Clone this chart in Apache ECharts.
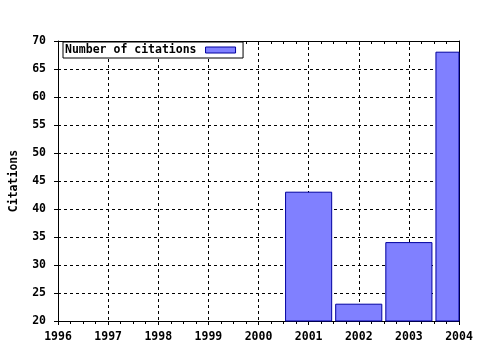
<!DOCTYPE html>
<html>
<head>
<meta charset="utf-8">
<script src="https://cdn.jsdelivr.net/npm/echarts@6/dist/echarts.min.js"></script>
<style>html,body{margin:0;padding:0;background:#fff}#c{width:480px;height:350px}</style>
</head>
<body>
<div id="c"></div>
<script>
var years = [2001, 2002, 2003, 2004];
var citations = [43, 23, 34, 68];
var seriesName = 'Number of citations';
var yName = 'Citations';

var font = 'DejaVu Sans Mono';
var txt = {fontFamily: font, fontWeight: 'bold', fontSize: 11.5, color: '#000'};
var dotted = {show: true, lineStyle: {color: '#000', type: [3, 3], width: 1}};
var barFill = '#8080ff', barEdge = '#0000a0';

var chart = echarts.init(document.getElementById('c'), null, {renderer: 'canvas'});
chart.setOption({
  animation: false,
  backgroundColor: '#fff',
  grid: {left: 58, right: 21, top: 41, bottom: 29, containLabel: false, outerBoundsMode: 'none'},
  legend: {
    left: 63, top: 42, padding: [2, 7, 2, 2],
    borderColor: '#000', borderWidth: 1, backgroundColor: '#fff',
    itemWidth: 30, itemHeight: 6, itemGap: 0, align: 'right',
    textStyle: Object.assign({}, txt, {padding: [0, 4, 0, 0]}),
    data: [{name: seriesName, icon: 'rect', itemStyle: {color: barFill, borderColor: barEdge, borderWidth: 1}}]
  },
  xAxis: [{
    type: 'value', min: 1996, max: 2004, interval: 1, position: 'bottom',
    axisLine: {show: true, lineStyle: {color: '#000', width: 1}},
    axisTick: {show: true, inside: false, length: 4, lineStyle: {color: '#000'}},
    minorTick: {show: true, splitNumber: 4, length: 3, lineStyle: {color: '#000'}},
    axisLabel: Object.assign({}, txt, {margin: 10, alignMinLabel: 'center', alignMaxLabel: 'center', formatter: function (v) { return String(v); }}),
    splitLine: dotted
  }, {
    type: 'value', min: 1996, max: 2004, interval: 1, position: 'top',
    axisLine: {show: true, onZero: false, lineStyle: {color: '#000', width: 1}},
    axisTick: {show: true, inside: true, length: 4, lineStyle: {color: '#000'}},
    minorTick: {show: true, splitNumber: 4, length: 3, lineStyle: {color: '#000'}},
    axisLabel: {show: false},
    splitLine: {show: false}
  }],
  yAxis: [{
    type: 'value', min: 20, max: 70, interval: 5, position: 'left',
    name: yName, nameLocation: 'middle', nameGap: 38, nameRotate: 90,
    nameTextStyle: txt,
    axisLine: {show: true, onZero: false, lineStyle: {color: '#000', width: 1}},
    axisTick: {show: true, inside: false, length: 4, lineStyle: {color: '#000'}},
    axisLabel: Object.assign({}, txt, {margin: 12}),
    splitLine: dotted
  }, {
    type: 'value', min: 20, max: 70, interval: 5, position: 'right',
    axisLine: {show: true, onZero: false, lineStyle: {color: '#000', width: 1}},
    axisTick: {show: false},
    axisLabel: {show: false},
    splitLine: {show: false}
  }],
  series: [{
    name: seriesName, type: 'custom', xAxisIndex: 0, yAxisIndex: 0,
    encode: {x: 0, y: 1},
    itemStyle: {color: barFill, borderColor: barEdge, borderWidth: 1},
    renderItem: function (params, api) {
      var x = api.value(0), v = api.value(1);
      var top = api.coord([x, v]);
      var base = api.coord([x, 20]);
      var w = api.size([1, 0])[0] * 0.92;
      var rect = echarts.graphic.clipRectByRect(
        {x: top[0] - w / 2, y: top[1], width: w, height: base[1] - top[1]},
        {x: params.coordSys.x, y: params.coordSys.y, width: params.coordSys.width, height: params.coordSys.height}
      );
      if (!rect) return null;
      return {type: 'rect', shape: rect, style: {fill: barFill, stroke: barEdge, lineWidth: 1}};
    },
    data: years.map(function (y, i) { return [y, citations[i]]; })
  }]
});
</script>
</body>
</html>
